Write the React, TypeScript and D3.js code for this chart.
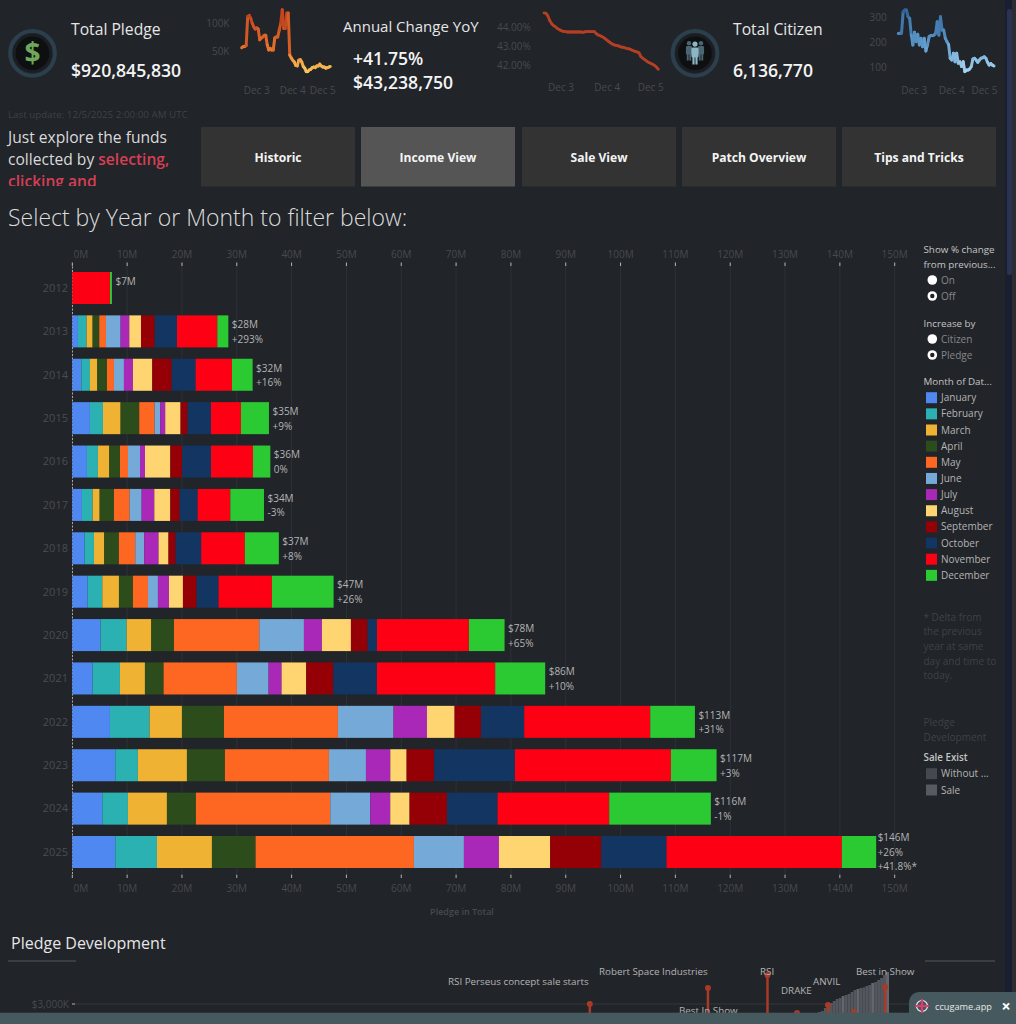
import * as d3 from 'd3';
import React from 'react';

const BG = '#212429';
const FONT = '"Open Sans", "Noto Sans", sans-serif';

const months = ['January', 'February', 'March', 'April', 'May', 'June', 'July', 'August', 'September', 'October', 'November', 'December'];
const monthColors = ['#4e88f0', '#2bb1b1', '#f0b232', '#2d4c1c', '#fe6722', '#74a9d8', '#a928b8', '#ffd571', '#940006', '#123661', '#fd0014', '#2bca33'];
const years = ['2012', '2013', '2014', '2015', '2016', '2017', '2018', '2019', '2020', '2021', '2022', '2023', '2024', '2025'];

// pledge per month in $M
const pledge2012 = [0, 0, 0, 0, 0, 0, 0, 0, 0, 0, 6.87, 0.36];
const pledge2013 = [1.03, 1.58, 1.1, 1.21, 1.22, 2.67, 1.59, 2.13, 2.49, 4.07, 7.36, 2.01];
const pledge2014 = [1.64, 1.58, 1.34, 1.76, 1.28, 1.82, 1.64, 3.53, 3.53, 4.37, 6.63, 3.77];
const pledge2015 = [3.22, 2.37, 3.22, 3.4, 2.8, 1.03, 0.91, 2.8, 1.28, 4.26, 5.47, 5.11];
const pledge2016 = [2.67, 2.01, 2.07, 1.95, 1.46, 2.19, 0.91, 4.62, 2.13, 5.29, 7.66, 3.16];
const pledge2017 = [1.76, 1.95, 1.28, 2.61, 2.86, 2.19, 2.31, 2.92, 1.7, 3.28, 5.96, 6.14];
const pledge2018 = [2.25, 1.7, 1.88, 2.67, 2.98, 1.64, 2.61, 1.82, 1.28, 4.68, 7.96, 6.2];
const pledge2019 = [2.8, 2.67, 3.04, 2.55, 2.74, 1.82, 2.01, 2.55, 2.49, 4.01, 9.73, 11.25];
const pledge2020 = [5.17, 4.74, 4.5, 4.13, 15.56, 8.15, 3.28, 5.29, 3.04, 1.7, 16.78, 6.5];
const pledge2021 = [3.71, 4.98, 4.56, 3.4, 13.37, 5.78, 2.37, 4.5, 4.92, 7.96, 21.58, 9.12];
const pledge2022 = [6.87, 7.23, 5.9, 7.66, 20.79, 10.15, 6.08, 5.05, 4.8, 7.9, 22.98, 8.15];
const pledge2023 = [7.84, 4.13, 8.94, 6.93, 18.97, 6.75, 4.44, 2.98, 4.98, 14.77, 28.45, 8.33];
const pledge2024 = [5.47, 4.68, 7.11, 5.29, 24.5, 7.29, 3.65, 3.53, 6.81, 9.24, 20.36, 18.54];
const pledge2025 = [7.84, 7.6, 10.03, 7.96, 28.88, 9.12, 6.38, 9.36, 9.3, 11.91, 31.98, 6.26];
const pledgeByYear = [pledge2012, pledge2013, pledge2014, pledge2015, pledge2016, pledge2017, pledge2018, pledge2019, pledge2020, pledge2021, pledge2022, pledge2023, pledge2024, pledge2025];

const totalLabels = ['$7M', '$28M', '$32M', '$35M', '$36M', '$34M', '$37M', '$47M', '$78M', '$86M', '$113M', '$117M', '$116M', '$146M'];
const changeLabels = ['', '+293%', '+16%', '+9%', '0%', '-3%', '+8%', '+26%', '+65%', '+10%', '+31%', '+3%', '-1%', '+26%'];

// hourly sparklines, Dec 2 afternoon to Dec 5 02:00
const hourlyPledge = [57, 59, 59, 61, 112, 114, 109, 100, 94, 90, 92, 90, 71, 74, 76, 79, 79, 62, 53, 56, 53, 53, 74, 76, 76, 88, 100, 124, 91, 91, 118, 118, 44, 39, 35, 32, 26, 25, 35, 36, 32, 24, 21, 15, 15, 18, 19, 22, 23, 22, 25, 25, 28, 25, 23, 23, 21, 22, 23, 24];
const hourlyChange = [44.79, 44.77, 44.63, 44.38, 44.21, 44.11, 44.04, 43.95, 43.89, 43.84, 43.8, 43.79, 43.77, 43.77, 43.77, 43.77, 43.77, 43.77, 43.77, 43.77, 43.75, 43.77, 43.79, 43.79, 43.79, 43.79, 43.79, 43.68, 43.61, 43.57, 43.52, 43.45, 43.38, 43.29, 43.21, 43.14, 43.09, 43.05, 43.04, 43.0, 42.96, 42.95, 42.91, 42.88, 42.86, 42.82, 42.77, 42.73, 42.7, 42.66, 42.45, 42.36, 42.29, 42.21, 42.14, 42.09, 42.04, 41.98, 41.89, 41.77];
const hourlyCitizen = [234, 235, 236, 321, 328, 328, 301, 295, 228, 189, 239, 202, 231, 189, 215, 182, 215, 165, 189, 222, 226, 226, 228, 235, 281, 228, 301, 248, 248, 215, 202, 191, 136, 129, 156, 122, 156, 116, 122, 103, 122, 83, 89, 89, 93, 103, 133, 136, 129, 120, 129, 136, 138, 142, 136, 120, 109, 115, 109, 105];
const dayLabels = ['Dec 3', 'Dec 4', 'Dec 5'];

// pledge development, cut off by the page
const cumulativePledge = [2719, 2750, 2781, 2875, 2938, 3031, 3094, 3156, 3188, 3250, 3281, 3313, 3375, 3438, 3469, 3500, 3516, 3563, 3594, 3656, 3688, 3750, 3813, 3906, 4000];
const eventPositions = [56.1, 68.9, 75.35, 78.55, 81.9, 84.7, 88.1];
const eventValues = [3000, 3500, 3906, 2719, 2969, 2750, 3531];

const navButtons = ['Historic', 'Income View', 'Sale View', 'Patch Overview', 'Tips and Tricks'];
const noteLines = ['* Delta from', 'the previous', 'year at same', 'day and time to', 'today.'];

const x = d3.scaleLinear().domain([0, 150]).range([72.3, 894.7]);
const y = d3.scaleBand<string>().domain(years).range([266.3, 873.7]).paddingInner(0.262).paddingOuter(0.131);
const xTicks = x.ticks(16);

const devX = d3.scaleLinear().domain([0, 100]).range([72, 995]);
const devY = d3.scaleLinear().domain([3000, 4000]).range([1004, 972]);
const devBand = d3.scaleBand<number>().domain(d3.range(cumulativePledge.length)).range([815, 889]);

function Label(props: any) {
  const { size = 10, fill = '#b4b4b4', weight = 400, children, ...rest } = props;
  return (
    <text fontFamily={FONT} fontSize={size} fill={fill} fontWeight={weight} {...rest}>
      {children}
    </text>
  );
}

function Sparkline({ values, x0, x1, yDomain, yRange, colors, width, yTicks, yLabel, yLabelEnd, tickHours, dayY }: any) {
  const sx = d3.scaleLinear().domain([0, values.length - 1]).range([x0, x1]);
  const sy = d3.scaleLinear().domain(yDomain).range(yRange);
  const color = d3.scaleLinear<string>().domain(colors.domain).range(colors.range);
  const seg = d3
    .line<[number, number]>()
    .x((d) => sx(d[0]))
    .y((d) => sy(d[1]));
  return (
    <g>
      {yTicks.map((t: number) => (
        <Label key={t} x={yLabelEnd} y={sy(t)} dy="0.35em" textAnchor="end" fill="#474a4f">
          {yLabel(t)}
        </Label>
      ))}
      {dayLabels.map((d, i) => (
        <Label key={d} x={sx(tickHours[i])} y={dayY} dy="0.35em" textAnchor="middle" fill="#474a4f">
          {d}
        </Label>
      ))}
      {values.slice(1).map((v: number, i: number) => (
        <path
          key={i}
          d={seg([[i, values[i]], [i + 1, v]]) as string}
          fill="none"
          stroke={color((values[i] + v) / 2)}
          strokeWidth={width}
          strokeLinecap="round"
        />
      ))}
    </g>
  );
}

function Badge({ cx, cy, children }: any) {
  return (
    <g>
      <circle cx={cx} cy={cy} r={22.4} fill="none" stroke="#2b3f4c" strokeWidth={4} />
      <circle cx={cx} cy={cy} r={19.5} fill="#1a1e22" />
      <circle cx={cx} cy={cy} r={16.8} fill="#0e0f11" />
      {children}
    </g>
  );
}

function Person({ cx, top, fill, scale = 1 }: any) {
  return (
    <g fill={fill}>
      <circle cx={cx} cy={top + 2.6 * scale} r={2.6 * scale} />
      <rect x={cx - 3.6 * scale} y={top + 6 * scale} width={7.2 * scale} height={10 * scale} rx={1.4} />
      <rect x={cx - 2.6 * scale} y={top + 15 * scale} width={2.2 * scale} height={8 * scale} />
      <rect x={cx + 0.4 * scale} y={top + 15 * scale} width={2.2 * scale} height={8 * scale} />
    </g>
  );
}

function Radio({ cy, label, on }: any) {
  return (
    <g>
      <circle cx={932.3} cy={cy} r={4.8} fill="#fff" />
      {on && <circle cx={932.3} cy={cy} r={2.2} fill="#222" />}
      <Label x={941} y={cy} dy="0.35em" fill="#85878a">
        {label}
      </Label>
    </g>
  );
}

function StackedBars() {
  return (
    <g>
      {xTicks.map((t) => (
        <g key={t}>
          <line x1={x(t)} x2={x(t)} y1={263} y2={875} stroke="#2e3136" />
          <line x1={x(t)} x2={x(t)} y1={262.5} y2={266} stroke="#b5b5b5" />
          <line x1={x(t)} x2={x(t)} y1={874.7} y2={878} stroke="#b5b5b5" />
          <Label x={t === 0 ? 73.6 : x(t)} y={258} textAnchor={t === 0 ? 'start' : 'middle'} fill="#474a4f">
            {t}M
          </Label>
          <Label x={t === 0 ? 73.6 : x(t)} y={892} textAnchor={t === 0 ? 'start' : 'middle'} fill="#474a4f">
            {t}M
          </Label>
        </g>
      ))}
      <line x1={72.5} x2={72.5} y1={263} y2={876} stroke="#a5a5a5" strokeDasharray="2 1.5" />
      {years.map((year, yi) => {
        const offsets = d3.cumsum(pledgeByYear[yi]);
        const top = y(year) as number;
        const mid = top + y.bandwidth() / 2;
        const end = x(offsets[11]);
        const labelX = end + (yi === 13 ? 1.5 : 3.5);
        return (
          <g key={year}>
            <Label x={68} y={mid} dy="0.35em" textAnchor="end" size={11} fill="#4a4d52">
              {year}
            </Label>
            {pledgeByYear[yi].map((v, m) => (
              <rect
                key={m}
                x={x(offsets[m] - v)}
                y={top}
                width={x(offsets[m]) - x(offsets[m] - v)}
                height={y.bandwidth()}
                fill={monthColors[m]}
              />
            ))}
            <Label x={labelX} y={mid - (yi === 13 ? 14.7 : 6.7)} dy="0.35em" size={10}>
              {totalLabels[yi]}
            </Label>
            <Label x={labelX} y={mid + (yi === 13 ? 0 : 8)} dy="0.35em" size={10}>
              {changeLabels[yi]}
            </Label>
            {yi === 13 && (
              <Label x={labelX} y={mid + 14.4} dy="0.35em" size={10}>
                +41.8%*
              </Label>
            )}
          </g>
        );
      })}
      <Label x={462} y={915} textAnchor="middle" size={9} weight={600} fill="#474a4f">
        Pledge in Total
      </Label>
    </g>
  );
}

function Sidebar() {
  const head = { size: 9.8, weight: 500, fill: '#c4c4c4', dy: '0.35em', x: 923.5 };
  return (
    <g>
      <Label {...head} y={250}>Show % change</Label>
      <Label {...head} y={264.5}>from previous...</Label>
      <Radio cy={280} label="On" />
      <Radio cy={296} label="Off" on />
      <Label {...head} y={323.7}>Increase by</Label>
      <Radio cy={339} label="Citizen" />
      <Radio cy={355} label="Pledge" on />
      <Label {...head} y={381.5}>Month of Dat...</Label>
      {months.map((m, i) => (
        <g key={m}>
          <rect x={926} y={392.2 + i * 16.15} width={11} height={11} fill={monthColors[i]} />
          <Label x={941} y={397.7 + i * 16.15} dy="0.35em" fill="#b4b4b4">{m}</Label>
        </g>
      ))}
      {noteLines.map((t, i) => (
        <Label key={t} x={923.5} y={617.3 + i * 14.6} dy="0.35em" fill="#3f4247">{t}</Label>
      ))}
      <Label x={923.5} y={722.7} dy="0.35em" fill="#3f4247">Pledge</Label>
      <Label x={923.5} y={737.2} dy="0.35em" fill="#3f4247">Development</Label>
      <Label {...head} y={757.7} weight={600}>Sale Exist</Label>
      <rect x={926} y={768.2} width={11} height={11} fill="#45484e" />
      <Label x={941} y={773.7} dy="0.35em">Without ...</Label>
      <rect x={926} y={784.5} width={11} height={11} fill="#575a61" />
      <Label x={941} y={790} dy="0.35em">Sale</Label>
    </g>
  );
}

function Development() {
  const annotations: [string, number, number][] = [
    ['RSI Perseus concept sale starts', 448, 985],
    ['Robert Space Industries', 599, 975],
    ['RSI', 760, 975],
    ['DRAKE', 781, 994],
    ['ANVIL', 813, 985],
    ['Best in Show', 856, 975],
    ['Best In Show', 679, 1014],
  ];
  return (
    <g>
      <Label x={11} y={949} size={16} fill="#e6e6e6">Pledge Development</Label>
      <line x1={8} x2={76} y1={961} y2={961} stroke="#55585d" />
      <line x1={925} x2={995} y1={961} y2={961} stroke="#55585d" />
      <Label x={69} y={devY(3000)} dy="0.35em" textAnchor="end" fill="#474a4f">$3,000K</Label>
      <line x1={72} x2={75} y1={devY(3000)} y2={devY(3000)} stroke="#b5b5b5" />
      <line x1={75} x2={995} y1={devY(3000)} y2={devY(3000)} stroke="#2e3136" strokeWidth={1.5} />
      {cumulativePledge.map((v, i) => (
        <rect key={i} x={devBand(i)} y={devY(v)} width={devBand.bandwidth()} height={1024 - devY(v)} fill={i % 5 === 4 ? '#63666d' : '#53565d'} />
      ))}
      {eventPositions.map((p, i) => (
        <g key={p}>
          <line x1={devX(p)} x2={devX(p)} y1={devY(eventValues[i])} y2={1024} stroke="#a83a28" strokeWidth={2.5} />
          <circle cx={devX(p)} cy={devY(eventValues[i])} r={3} fill="#a83a28" />
        </g>
      ))}
      {annotations.map(([t, ax, ay]) => (
        <Label key={t + ax} x={ax} y={ay} size={9.8} fill="#b4b4b4">{t}</Label>
      ))}
    </g>
  );
}

export default function App() {
  const btnX = [201, 361, 522, 682, 842];
  return (
    <svg width={1016} height={1024} style={{ position: 'fixed', left: 0, top: 0, background: BG }}>
      <defs>
        <clipPath id="introClip">
          <rect x={0} y={125} width={200} height={61} />
        </clipPath>
      </defs>

      <Badge cx={32.5} cy={53.3}>
        <text x={32.5} y={63} textAnchor="middle" fontFamily={FONT} fontWeight={700} fontSize={28} fill="#6fa85a">$</text>
      </Badge>
      <Label x={71} y={35} size={15.7} fill="#e6e6e6">Total Pledge</Label>
      <Label x={71} y={77} size={17.6} weight={600} fill="#f4f4f4">$920,845,830</Label>
      <Sparkline
        values={hourlyPledge} x0={241.7} x1={330.3} yDomain={[50, 100]} yRange={[51.7, 23.3]}
        colors={{ domain: [15, 50, 124], range: ['#f7c65c', '#ec7a2c', '#b8381c'] }} width={3}
        yTicks={[50, 100]} yLabel={(t: number) => `${t}K`} yLabelEnd={229.5} tickHours={[10, 34, 54]} dayY={90.7}
      />

      <Label x={343} y={32} size={15} fill="#e6e6e6">Annual Change YoY</Label>
      <Label x={353} y={65} size={17.6} weight={600} fill="#f4f4f4">+41.75%</Label>
      <Label x={353} y={89} size={17.6} weight={600} fill="#f4f4f4">$43,238,750</Label>
      <Sparkline
        values={hourlyChange} x0={544} x1={658.3} yDomain={[42, 44]} yRange={[65, 27.7]}
        colors={{ domain: [41, 45], range: ['#b53f25', '#b53f25'] }} width={2.8}
        yTicks={[42, 43, 44]} yLabel={(t: number) => `${t.toFixed(2)}%`} yLabelEnd={530.7} tickHours={[8.8, 32.7, 55.1]} dayY={87.3}
      />

      <Badge cx={695} cy={53.3}>
        <Person cx={689} top={41} fill="#4b6672" scale={0.85} />
        <Person cx={701} top={41} fill="#4b6672" scale={0.85} />
        <Person cx={695} top={41.5} fill="#8db5c4" />
      </Badge>
      <Label x={733} y={35} size={15.7} fill="#e6e6e6">Total Citizen</Label>
      <Label x={733} y={77} size={17.6} weight={600} fill="#f4f4f4">6,136,770</Label>
      <Sparkline
        values={hourlyCitizen} x0={898.3} x1={994} yDomain={[100, 300]} yRange={[67.3, 17]}
        colors={{ domain: [83, 200, 328], range: ['#a9d6f1', '#5b97c9', '#2f6299'] }} width={3}
        yTicks={[100, 200, 300]} yLabel={(t: number) => `${t}`} yLabelEnd={886.7} tickHours={[9.9, 33, 53.1]} dayY={90.7}
      />

      <Label x={8} y={118} size={9.8} fill="#3f4247">Last update: 12/5/2025 2:00:00 AM UTC</Label>
      <g clipPath="url(#introClip)">
        <Label x={8} y={143} size={15.6} fill="#dadada">Just explore the funds</Label>
        <Label x={8} y={165} size={15.6} fill="#dadada">
          collected by <tspan fill="#d63f54" fontWeight={600}>selecting,</tspan>
        </Label>
        <Label x={8} y={187} size={15.6} fill="#d63f54" weight={600}>clicking and</Label>
      </g>
      {navButtons.map((b, i) => (
        <g key={b}>
          <rect x={btnX[i]} y={127} width={154} height={59.5} fill={i === 1 ? '#555555' : '#333333'} />
          <Label x={btnX[i] + 77} y={161.5} textAnchor="middle" size={12.1} weight={700} fill="#f4f4f4">{b}</Label>
        </g>
      ))}
      <Label x={8} y={226} size={23} fill="#dcdcdc" weight={300}>Select by Year or Month to filter below:</Label>

      <StackedBars />
      <Sidebar />
      <Development />

      <rect x={1005} y={0} width={11} height={1024} fill="#191f30" />
      <rect x={1007} y={9} width={5} height={266} rx={2} fill="#2a3350" />
      <rect x={1012} y={0} width={4} height={1024} fill="#2b2d31" />

      <rect x={0} y={1012.7} width={1016} height={12} fill="#46595e" />
      <rect x={909} y={992} width={120} height={40} rx={10} fill="#46595e" />
      <circle cx={922} cy={1006} r={5.5} fill="none" stroke="#f2f2f2" strokeWidth={1.2} />
      <line x1={915} x2={929} y1={1006} y2={1006} stroke="#e5386f" strokeWidth={2} />
      <line x1={922} x2={922} y1={999} y2={1013} stroke="#e5386f" strokeWidth={2} />
      <Label x={935} y={1009.5} size={9.2} fill="#e8e8e8">ccugame.app</Label>
      <Label x={1006} y={1011.5} textAnchor="middle" size={16} weight={700} fill="#ffffff">×</Label>
    </svg>
  );
}
